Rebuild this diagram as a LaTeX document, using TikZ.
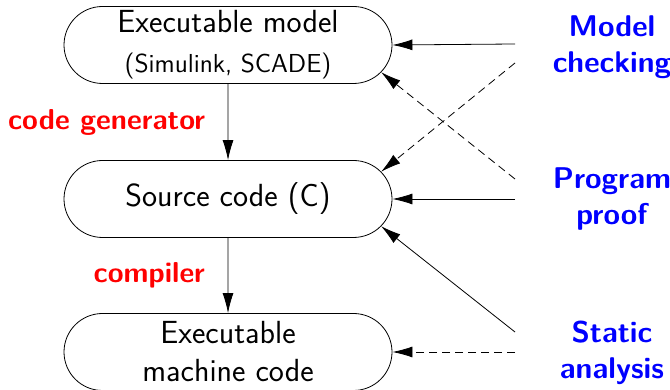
\documentclass[tikz,border=0pt]{standalone}
\usepackage{tikz}
\usetikzlibrary{arrows.meta,shapes.misc,calc}

\begin{document}
\begin{tikzpicture}[x=0.5pt,y=0.5pt,every node/.style={font=\sffamily},
      stage/.style={draw,rounded rectangle,minimum width=164pt,minimum height=38.5pt,inner sep=0pt,align=center,font=\sffamily\fontsize{16}{19}\selectfont},
      tool/.style={font=\sffamily\fontsize{15}{18}\selectfont\bfseries,text=blue,align=center},
      gen/.style={font=\sffamily\Large\bfseries,text=red},
      arr/.style={-{Latex[length=10pt,width=5.5pt]}},
      dashedarr/.style={arr,dash pattern=on 4pt off 2.5pt}]
    \useasboundingbox (0,0) rectangle (670,390);
    % Stages
    \node[stage] (model) at (228,345) {Executable model\\[1pt]{\fontsize{13}{15}\selectfont(Simulink, SCADE)}};
    \node[stage] (src)   at (228,191) {Source code (C)};
    \node[stage] (bin)   at (228,38)  {Executable\\machine code};
    \draw[arr] (model) -- (src) node[midway,left=8pt,gen]{code generator};
    \draw[arr] (src) -- (bin) node[midway,left=8pt,gen]{compiler};
    % Verification tools
    \node[tool] (mc) at (612,343) {Model\\checking};
    \node[tool] (pp) at (612,191) {Program\\proof};
    \node[tool] (sa) at (612,37)  {Static\\analysis};
    \coordinate (mc1) at (515,346);
    \coordinate (mc2) at (515,327);
    \coordinate (pp1) at (515,211);
    \coordinate (pp2) at (515,191);
    \coordinate (sa1) at (515,58);
    \coordinate (sa2) at (515,38);
    \draw[arr] (mc1) -- (model.east);
    \draw[dashedarr] (mc2) -- ($(src.east)+(-38.5,0)+(45:38.5)$);
    \draw[dashedarr] (pp1) -- ($(model.east)+(-38.5,0)+(-45:38.5)$);
    \draw[arr] (pp2) -- (src.east);
    \draw[arr] (sa1) -- ($(src.east)+(-38.5,0)+(-45:38.5)$);
    \draw[dashedarr] (sa2) -- (bin.east);
  \end{tikzpicture}
\end{document}
